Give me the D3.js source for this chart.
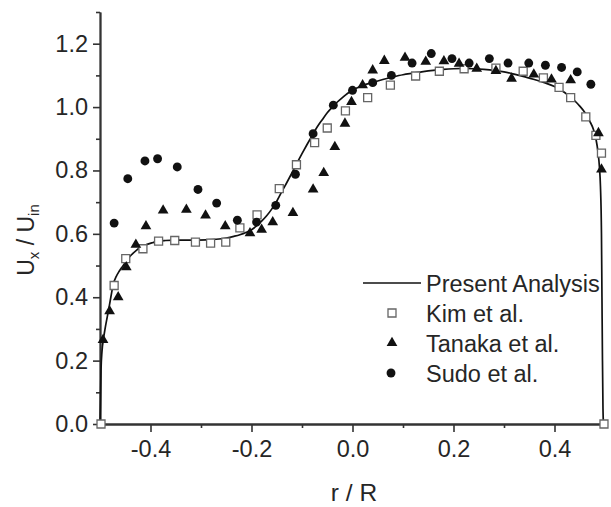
<!DOCTYPE html>
<html>
<head>
<meta charset="utf-8">
<script src="https://cdn.jsdelivr.net/npm/d3@7"></script>
<style>
  body { margin: 0; background: #fff; }
  svg text { font-family: "Liberation Sans", Arial, sans-serif; fill: #262626; }
</style>
</head>
<body>
<svg id="chart" width="611" height="507"></svg>
<script>
// r/R vs Ux/Uin
const presentAnalysis = [
  [-0.5, 0], [-0.499, 0.08], [-0.498, 0.17], [-0.496, 0.23], [-0.493, 0.27], [-0.49, 0.30],
  [-0.486, 0.335], [-0.482, 0.369], [-0.478, 0.405], [-0.474, 0.44], [-0.468, 0.465],
  [-0.462, 0.482], [-0.455, 0.498], [-0.448, 0.514], [-0.44, 0.530], [-0.428, 0.548],
  [-0.418, 0.559], [-0.408, 0.566], [-0.396, 0.572], [-0.384, 0.577], [-0.37, 0.579],
  [-0.35, 0.58], [-0.32, 0.58], [-0.29, 0.581], [-0.27, 0.583], [-0.25, 0.587],
  [-0.235, 0.592], [-0.223, 0.597], [-0.21, 0.605], [-0.2, 0.613], [-0.19, 0.625],
  [-0.18, 0.64], [-0.17, 0.657], [-0.16, 0.678], [-0.15, 0.703], [-0.14, 0.733],
  [-0.13, 0.762], [-0.12, 0.792], [-0.11, 0.823], [-0.10, 0.853], [-0.09, 0.882],
  [-0.08, 0.91], [-0.07, 0.937], [-0.06, 0.96], [-0.05, 0.982], [-0.04, 1.0],
  [-0.03, 1.016], [-0.02, 1.03], [-0.01, 1.043], [0, 1.053], [0.02, 1.068], [0.04, 1.078],
  [0.06, 1.087], [0.08, 1.095], [0.10, 1.102], [0.12, 1.107], [0.14, 1.112], [0.16, 1.116],
  [0.18, 1.119], [0.20, 1.121], [0.22, 1.122], [0.24, 1.121], [0.26, 1.119], [0.28, 1.116],
  [0.30, 1.111], [0.32, 1.104], [0.34, 1.096], [0.36, 1.087], [0.38, 1.077], [0.40, 1.065],
  [0.42, 1.046], [0.44, 1.02], [0.45, 1.003], [0.46, 0.983], [0.47, 0.955], [0.477, 0.93],
  [0.482, 0.9], [0.486, 0.86], [0.489, 0.81], [0.491, 0.75], [0.493, 0.6], [0.494, 0.4],
  [0.495, 0.2], [0.496, 0.05], [0.497, 0]
];

const kim = [
  [-0.498, 0.0], [-0.472, 0.437], [-0.449, 0.522], [-0.415, 0.553], [-0.384, 0.577],
  [-0.352, 0.579], [-0.311, 0.574], [-0.281, 0.571], [-0.251, 0.574], [-0.223, 0.619],
  [-0.189, 0.660], [-0.145, 0.743], [-0.111, 0.818], [-0.075, 0.888], [-0.050, 0.934],
  [-0.014, 0.988], [0.030, 1.030], [0.075, 1.069], [0.125, 1.098], [0.172, 1.113],
  [0.221, 1.121], [0.284, 1.123], [0.338, 1.113], [0.378, 1.092], [0.409, 1.062],
  [0.432, 1.030], [0.462, 0.969], [0.482, 0.911], [0.493, 0.855], [0.498, 0.0]
];

const tanaka = [
  [-0.494, 0.265], [-0.481, 0.356], [-0.464, 0.400], [-0.448, 0.495], [-0.429, 0.566],
  [-0.409, 0.624], [-0.375, 0.674], [-0.329, 0.676], [-0.291, 0.658], [-0.252, 0.624],
  [-0.203, 0.602], [-0.180, 0.613], [-0.158, 0.637], [-0.118, 0.666], [-0.078, 0.740],
  [-0.057, 0.792], [-0.035, 0.874], [-0.015, 0.948], [-0.002, 1.016], [0.020, 1.069],
  [0.040, 1.116], [0.063, 1.146], [0.104, 1.156], [0.145, 1.143], [0.181, 1.145],
  [0.211, 1.137], [0.246, 1.121], [0.284, 1.114], [0.315, 1.090], [0.359, 1.103],
  [0.394, 1.087], [0.432, 1.085], [0.487, 0.918], [0.493, 0.803]
];

const sudo = [
  [-0.472, 0.634], [-0.445, 0.774], [-0.411, 0.830], [-0.386, 0.837], [-0.347, 0.811],
  [-0.306, 0.740], [-0.269, 0.697], [-0.228, 0.643], [-0.190, 0.637], [-0.152, 0.690],
  [-0.113, 0.788], [-0.078, 0.916], [-0.038, 1.006], [0.000, 1.053], [0.040, 1.077],
  [0.077, 1.100], [0.118, 1.139], [0.156, 1.169], [0.197, 1.153], [0.231, 1.139],
  [0.271, 1.153], [0.308, 1.139], [0.349, 1.139], [0.382, 1.132], [0.414, 1.125],
  [0.445, 1.111], [0.472, 1.072]
];

const xMajor = [-0.4, -0.2, 0.0, 0.2, 0.4];
const xMinor = [-0.5, -0.3, -0.1, 0.1, 0.3, 0.5];
const yMajor = [0.0, 0.2, 0.4, 0.6, 0.8, 1.0, 1.2];
const yMinor = [0.1, 0.3, 0.5, 0.7, 0.9, 1.1, 1.3];
const legendLabels = ["Present Analysis", "Kim et al.", "Tanaka et al.", "Sudo et al."];

(function() {
  const margin = {top: 12, left: 100, right: 6, bottom: 83};
  const width = 611 - margin.left - margin.right;
  const height = 507 - margin.top - margin.bottom;

  const svg = d3.select("#chart");
  const g = svg.append("g").attr("transform", `translate(${margin.left},${margin.top})`);

  const x = d3.scaleLinear().domain([-0.5, 0.5]).range([0, width]);
  const y = d3.scaleLinear().domain([0, 1.3]).range([height, 0]);
  const fmt = d => d.toFixed(1);

  // axes: minor first (no labels), then major
  const axisColor = "#333";
  function styleAxis(sel) {
    sel.selectAll("path.domain").attr("stroke", axisColor).attr("stroke-width", 1.8);
    sel.selectAll(".tick line").attr("stroke", axisColor).attr("stroke-width", 1.6);
    sel.selectAll(".tick text").attr("font-size", 23.5).attr("fill", "#262626");
  }

  g.append("g").attr("transform", `translate(0,${height})`)
    .call(d3.axisBottom(x).tickValues(xMinor).tickSize(4).tickFormat("").tickSizeOuter(0))
    .call(styleAxis);
  g.append("g").attr("transform", `translate(0,${height})`)
    .call(d3.axisBottom(x).tickValues(xMajor).tickSize(8).tickPadding(8).tickFormat(fmt).tickSizeOuter(0))
    .call(styleAxis);

  g.append("g")
    .call(d3.axisLeft(y).tickValues(yMinor).tickSize(4).tickFormat("").tickSizeOuter(0))
    .call(styleAxis);
  g.append("g")
    .call(d3.axisLeft(y).tickValues(yMajor).tickSize(7).tickPadding(5).tickFormat(fmt).tickSizeOuter(0))
    .call(styleAxis);

  g.selectAll(".domain").attr("fill", "none");

  // axis titles
  svg.append("text")
    .attr("x", 354).attr("y", 501)
    .attr("text-anchor", "middle")
    .attr("font-size", 24.5)
    .text("r / R");

  const yt = svg.append("text")
    .attr("transform", "translate(34,240) rotate(-90)")
    .attr("text-anchor", "middle")
    .attr("font-size", 23);
  yt.append("tspan").text("U");
  yt.append("tspan").attr("font-size", 15).attr("dy", 5).text("x");
  yt.append("tspan").attr("dy", -5).text(" / U");
  yt.append("tspan").attr("font-size", 15).attr("dy", 5).text("in");

  // curve
  const line = d3.line().x(d => x(d[0])).y(d => y(d[1])).curve(d3.curveMonotoneX);
  g.append("path")
    .datum(presentAnalysis)
    .attr("d", line)
    .attr("fill", "none")
    .attr("stroke", "#111")
    .attr("stroke-width", 1.7);

  const sq = d3.symbol().type(d3.symbolSquare).size(64);
  const tri = d3.symbol().type(d3.symbolTriangle).size(50);
  const circ = d3.symbol().type(d3.symbolCircle).size(62);

  g.selectAll("path.kim")
    .data(kim)
    .join("path")
    .attr("class", "kim")
    .attr("transform", d => `translate(${x(d[0])},${y(d[1])})`)
    .attr("d", sq)
    .attr("fill", "#fff")
    .attr("stroke", "#666")
    .attr("stroke-width", 1.3);

  g.selectAll("path.tanaka")
    .data(tanaka)
    .join("path")
    .attr("class", "tanaka")
    .attr("transform", d => `translate(${x(d[0])},${y(d[1])})`)
    .attr("d", tri)
    .attr("fill", "#111");

  g.selectAll("path.sudo")
    .data(sudo)
    .join("path")
    .attr("class", "sudo")
    .attr("transform", d => `translate(${x(d[0])},${y(d[1])})`)
    .attr("d", circ)
    .attr("fill", "#111");

  // legend
  const legend = svg.append("g").attr("transform", "translate(363,283)");
  const rowH = 30;
  legend.append("line")
    .attr("x1", 0).attr("x2", 58).attr("y1", 0).attr("y2", 0)
    .attr("stroke", "#111").attr("stroke-width", 1.7);
  legend.append("path").attr("transform", `translate(29,${rowH})`).attr("d", sq)
    .attr("fill", "#fff").attr("stroke", "#666").attr("stroke-width", 1.3);
  legend.append("path").attr("transform", `translate(29,${rowH * 2})`).attr("d", tri).attr("fill", "#111");
  legend.append("path").attr("transform", `translate(28,${rowH * 3})`).attr("d", circ).attr("fill", "#111");

  legend.selectAll("text")
    .data(legendLabels)
    .join("text")
    .attr("x", 63)
    .attr("y", (d, i) => i * rowH + 8.5)
    .attr("font-size", 23.5)
    .text(d => d);
})();
</script>
</body>
</html>
